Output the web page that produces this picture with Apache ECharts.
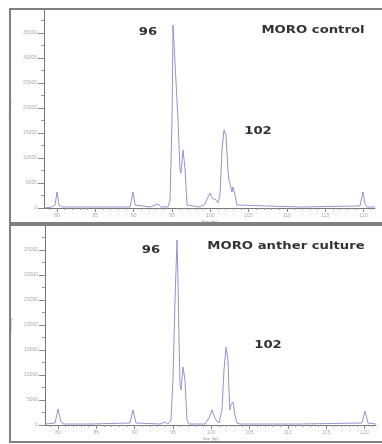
<!DOCTYPE html>
<html>
<head>
<meta charset="UTF-8">
<title>MORO</title>
<script src="https://cdn.jsdelivr.net/npm/echarts@6/dist/echarts.min.js"></script>
<style>
  html, body { margin: 0; padding: 0; background: #fff; }
  #main { width: 382px; height: 444px; }
</style>
</head>
<body>
<div id="main"></div>
<script>
// size axis (bp) and intensity ticks
var xTicks = [80, 85, 90, 95, 100, 105, 110, 115, 120];
var yTicks = [0, 5000, 10000, 15000, 20000, 25000, 30000, 35000];

// MORO control trace
var controlSize = [78.3, 79.35, 79.74, 80.0, 80.26, 80.65, 84.96, 89.53, 89.66, 89.92, 90.18, 90.44,
  92.14, 93.18, 93.57, 94.49, 94.75, 95.01, 95.14, 95.40, 95.79, 96.05, 96.18, 96.44, 96.70, 96.97,
  97.23, 98.67, 99.31, 99.71, 99.97, 100.23, 100.49, 100.75, 101.01, 101.27, 101.53, 101.79, 102.05,
  102.31, 102.44, 102.71, 102.84, 102.97, 103.23, 103.49, 103.75, 111.71, 119.54, 119.67, 119.93,
  120.19, 120.45, 121.5];
var controlRfu = [0, 200, 600, 3200, 600, 200, 200, 200, 600, 3200, 600, 200,
  200, 800, 200, 200, 1600, 17600, 36600, 36400, 17600, 7600, 7000, 11600, 8000, 600,
  200, 200, 800, 2200, 3000, 2000, 2400, 1600, 1000, 2600, 11600, 15600, 14600,
  7600, 5600, 4000, 3200, 4200, 2600, 600, 200, 200, 400, 800, 3200,
  800, 200, 200];

// MORO anther culture trace
var antherSize = [78.3, 79.61, 80.0, 80.39, 80.78, 84.17, 89.39, 89.78, 90.18, 93.31, 93.96, 94.35,
  94.74, 95.0, 95.27, 95.53, 95.66, 95.79, 95.92, 96.05, 96.31, 96.57, 96.83, 97.09, 99.18, 99.70,
  100.09, 100.35, 100.61, 101.0, 101.40, 101.66, 101.92, 102.18, 102.31, 102.44, 102.57, 102.83,
  103.09, 103.35, 103.75, 111.58, 119.67, 120.06, 120.45, 121.5];
var antherRfu = [200, 400, 3200, 600, 200, 200, 400, 3000, 400, 200, 600, 200,
  1000, 9000, 25000, 37000, 29000, 17000, 8000, 7000, 11600, 9000, 1000, 200, 200, 1400,
  3000, 1800, 1000, 400, 3000, 11000, 15600, 13000, 7000, 3000, 4000, 4600,
  2000, 400, 200, 200, 400, 2800, 400, 200];

var panelTitles = ['MORO control', 'MORO anther culture'];
var peakNames = ['96', '102'];

var xMinor = [];
for (var v = 79; v <= 121; v++) {
  if (v % 5 !== 0) xMinor.push(v);
}
var yMinor = [2500, 7500, 12500, 17500, 22500, 27500, 32500, 37500];

function pairs(xs, ys) {
  var out = [];
  for (var i = 0; i < xs.length; i++) out.push([xs[i], ys[i]]);
  return out;
}

var myChart = echarts.init(document.getElementById('main'), null, { renderer: 'canvas' });

var grids = [
  { left: 44, right: 7, top: 10, bottom: 236 },
  { left: 45, right: 6, top: 226, bottom: 19 }
];
var yMax = [39600, 39800];
var traceColor = '#9494d0';

var xAxes = [], yAxes = [], allGrids = [];
for (var g = 0; g < 2; g++) {
  allGrids.push(grids[g]);
}
// overlay grids for the minor ticks
for (var g = 0; g < 2; g++) {
  allGrids.push(grids[g]);
}

for (var g = 0; g < 2; g++) {
  xAxes.push({
    gridIndex: g,
    type: 'value',
    min: 78.3,
    max: 121.5,
    name: 'Size (bp)',
    nameLocation: 'middle',
    nameGap: 12,
    nameTextStyle: { fontSize: 4, color: '#999' },
    axisLine: { lineStyle: { color: '#777', width: 1 } },
    axisTick: { customValues: xTicks, length: 4, lineStyle: { color: '#888' } },
    axisLabel: { customValues: xTicks, fontSize: 5, color: '#aaa', margin: 5 },
    splitLine: { show: false }
  });
  yAxes.push({
    gridIndex: g,
    type: 'value',
    min: 0,
    max: yMax[g],
    name: 'Intensity',
    nameLocation: 'middle',
    nameGap: 28,
    nameTextStyle: { fontSize: 4, color: '#999' },
    axisLine: { show: true, lineStyle: { color: '#777', width: 1 } },
    axisTick: { customValues: yTicks, length: 6, lineStyle: { color: '#888' } },
    axisLabel: {
      customValues: yTicks, fontSize: 5, color: '#aaa', margin: 7,
      formatter: function (val) { return String(val); }
    },
    splitLine: { show: false }
  });
}
for (var g = 0; g < 2; g++) {
  xAxes.push({
    gridIndex: g + 2,
    type: 'value',
    min: 78.3,
    max: 121.5,
    axisLine: { show: false },
    axisTick: { customValues: xMinor, length: 2, lineStyle: { color: '#999' } },
    axisLabel: { show: false },
    splitLine: { show: false }
  });
  yAxes.push({
    gridIndex: g + 2,
    type: 'value',
    min: 0,
    max: yMax[g],
    axisLine: { show: false },
    axisTick: { customValues: yMinor, length: 3, lineStyle: { color: '#999' } },
    axisLabel: { show: false },
    splitLine: { show: false }
  });
}

function lineSeries(idx, xs, ys) {
  return {
    type: 'line',
    xAxisIndex: idx,
    yAxisIndex: idx,
    data: pairs(xs, ys),
    showSymbol: false,
    symbol: 'none',
    lineStyle: { color: traceColor, width: 1 },
    silent: true
  };
}

var labelFont = 'bold 11px "DejaVu Sans"';
function label(text, x, y) {
  return {
    type: 'text',
    x: x,
    y: y,
    scaleX: 1.2,
    style: {
      text: text,
      font: labelFont,
      fill: '#333',
      align: 'center',
      verticalAlign: 'middle'
    },
    z: 100
  };
}

var option = {
  animation: false,
  backgroundColor: '#fff',
  grid: allGrids,
  xAxis: xAxes,
  yAxis: yAxes,
  series: [
    lineSeries(0, controlSize, controlRfu),
    lineSeries(1, antherSize, antherRfu)
  ],
  graphic: [
    { type: 'rect', shape: { x: 10, y: 9, width: 380, height: 214 },
      style: { fill: 'none', stroke: '#808080', lineWidth: 2 }, z: 90 },
    { type: 'rect', shape: { x: 10, y: 225, width: 380, height: 217 },
      style: { fill: 'none', stroke: '#808080', lineWidth: 2 }, z: 90 },
    label(peakNames[0], 148, 32),
    label(panelTitles[0], 313, 30),
    label(peakNames[1], 258, 131),
    label(peakNames[0], 151, 250),
    label(panelTitles[1], 286, 246),
    label(peakNames[1], 268, 345)
  ]
};

myChart.setOption(option);
</script>
</body>
</html>
